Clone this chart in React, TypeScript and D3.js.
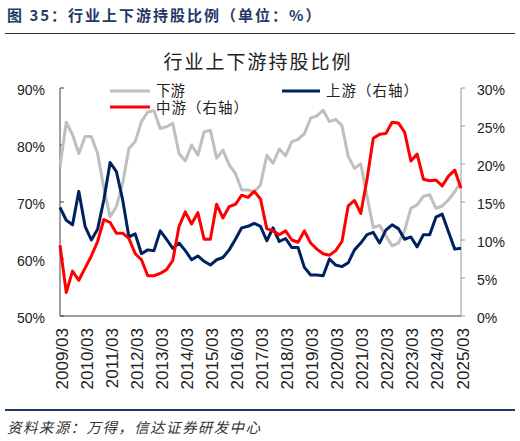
import { scaleLinear, scalePoint, line } from 'd3';

// quarterly categories 2009/03 .. 2025/03
const years = [2009, 2010, 2011, 2012, 2013, 2014, 2015, 2016, 2017, 2018, 2019, 2020, 2021, 2022, 2023, 2024, 2025];
const months = ['03', '06', '09', '12'];
const quarters = years.flatMap((y) => months.map((m) => `${y}/${m}`)).slice(0, 65);

// 下游 (left axis, %)
const downstream = [
  76.2, 84.0, 81.8, 78.5, 81.5, 81.5, 78.5, 72.4, 67.4, 69.2, 73.3, 79.4, 80.6, 84.1, 85.8, 86.0,
  82.9, 83.2, 83.8, 78.5, 77.2, 80.0, 78.2, 82.3, 82.6, 77.7, 79.1, 76.5, 75.0, 72.1, 72.1, 71.8,
  73.0, 78.2, 76.8, 79.3, 78.1, 80.6, 81.0, 82.0, 84.7, 85.1, 86.1, 84.1, 84.5, 83.4, 78.0, 75.9,
  76.7, 71.0, 65.5, 65.9, 64.1, 62.3, 62.8, 65.0, 68.9, 69.5, 71.0, 71.3, 68.9, 69.3, 70.4, 71.8,
  73.6,
];

// 中游 (right axis, %)
const midstream = [
  9.3, 3.1, 5.9, 4.7, 6.3, 7.9, 9.8, 12.7, 12.3, 10.9, 10.9, 10.2, 8.2, 7.4, 5.3, 5.3,
  5.6, 6.1, 7.3, 11.8, 13.7, 12.1, 13.6, 10.1, 10.1, 14.7, 12.9, 14.4, 14.7, 15.9, 15.6, 16.4,
  15.4, 11.5, 11.2, 10.7, 11.2, 10.0, 9.7, 11.2, 9.6, 8.8, 8.2, 8.0, 8.6, 9.8, 14.5, 15.2,
  13.5, 18.0, 23.4, 23.9, 24.0, 25.5, 25.4, 24.2, 20.4, 21.3, 18.0, 17.8, 17.9, 17.1, 18.4, 19.2,
  16.8,
];

// 上游 (right axis, %)
const upstream = [
  14.3, 12.6, 12.0, 16.4, 11.8, 10.0, 11.4, 15.3, 20.2, 19.0, 15.3, 10.4, 10.8, 8.2, 8.7, 8.6,
  11.2, 10.1, 8.9, 9.6, 8.6, 7.4, 7.9, 7.2, 6.7, 7.4, 7.7, 8.7, 10.1, 11.6, 11.8, 12.2,
  11.8, 9.9, 11.6, 9.8, 10.2, 9.0, 9.0, 6.4, 5.4, 5.4, 5.3, 7.5, 6.7, 6.5, 7.0, 8.7,
  9.6, 10.7, 11.0, 9.6, 11.3, 12.0, 11.5, 10.1, 10.4, 9.1, 10.7, 10.7, 13.0, 13.4, 11.1, 8.8,
  8.9,
];

const leftTicks = [50, 60, 70, 80, 90];
const rightTicks = [0, 5, 10, 15, 20, 25, 30];
const xTickLabels = quarters.filter((q) => q.endsWith('/03'));

const W = 520;
const H = 441;
const plot = { left: 60, right: 461, top: 88, bottom: 316 };

const numFont = '"Liberation Sans", Arial, sans-serif';
const cjkFont = '"Noto Sans CJK SC", sans-serif';

export default function App() {
  const x = scalePoint<string>().domain(quarters).range([plot.left, plot.right]);
  const yL = scaleLinear().domain([50, 90]).range([plot.bottom, plot.top]);
  const yR = scaleLinear().domain([0, 30]).range([plot.bottom, plot.top]);

  const lineL = line<number>()
    .x((_, i) => x(quarters[i]) ?? 0)
    .y((d) => yL(d));
  const lineR = line<number>()
    .x((_, i) => x(quarters[i]) ?? 0)
    .y((d) => yR(d));

  return (
    <svg width={W} height={H} style={{ position: 'absolute', left: 0, top: 0, background: '#fff' }}>
      {/* header */}
      <text x={7} y={21} fontFamily={cjkFont} fontSize={15} fontWeight="bold" fill="#1F3A68" letterSpacing={2}>
        图 35：行业上下游持股比例（单位：%）
      </text>
      <line x1={5} x2={515} y1={33.5} y2={33.5} stroke="#333" strokeWidth={1} />

      {/* chart title */}
      <text x={258} y={69} textAnchor="middle" fontFamily={cjkFont} fontSize={19} fill="#222" letterSpacing={2}>
        行业上下游持股比例
      </text>

      {/* axes */}
      <line x1={plot.left} x2={plot.left} y1={plot.top} y2={plot.bottom} stroke="#404040" />
      <line x1={plot.right} x2={plot.right} y1={plot.top} y2={plot.bottom} stroke="#999" />
      <line x1={plot.left} x2={plot.right} y1={plot.bottom} y2={plot.bottom} stroke="#404040" strokeWidth={1.2} />
      {leftTicks.map((t) => (
        <g key={`l${t}`}>
          <line x1={plot.left} x2={plot.left + 4} y1={yL(t)} y2={yL(t)} stroke="#404040" />
          <text x={45} y={yL(t) + 7} textAnchor="end" fontFamily={numFont} fontSize={14} fill="#222">
            {t}%
          </text>
        </g>
      ))}
      {rightTicks.map((t) => (
        <g key={`r${t}`}>
          <line x1={plot.right} x2={plot.right + 4} y1={yR(t)} y2={yR(t)} stroke="#999" />
          <text x={477} y={yR(t) + 7} fontFamily={numFont} fontSize={14} fill="#222">
            {t}%
          </text>
        </g>
      ))}
      {xTickLabels.map((q) => (
        <text
          key={q}
          transform={`translate(${(x(q) ?? 0) + 7.5},328) rotate(-90)`}
          textAnchor="end"
          fontFamily={numFont}
          fontSize={17}
          fill="#222"
        >
          {q}
        </text>
      ))}

      {/* series */}
      <path d={lineL(downstream) ?? ''} fill="none" stroke="#BFBFBF" strokeWidth={3} strokeLinejoin="round" />
      <path d={lineR(upstream) ?? ''} fill="none" stroke="#002060" strokeWidth={3} strokeLinejoin="round" />
      <path d={lineR(midstream) ?? ''} fill="none" stroke="#FF0000" strokeWidth={3} strokeLinejoin="round" />

      {/* legend */}
      <line x1={110} x2={150} y1={91} y2={91} stroke="#BFBFBF" strokeWidth={3} />
      <text x={156} y={96} fontFamily={cjkFont} fontSize={14.5} fill="#222">下游</text>
      <line x1={110} x2={150} y1={107} y2={107} stroke="#FF0000" strokeWidth={3} />
      <text x={156} y={113} fontFamily={cjkFont} fontSize={14.5} fill="#222" letterSpacing={1}>中游（右轴）</text>
      <line x1={282} x2={320} y1={91} y2={91} stroke="#002060" strokeWidth={3} />
      <text x={326} y={96} fontFamily={cjkFont} fontSize={14.5} fill="#222" letterSpacing={1}>上游（右轴）</text>

      {/* footer */}
      <line x1={5} x2={515} y1={410} y2={410} stroke="#1F3A68" strokeWidth={2} />
      <text x={7} y={433} fontFamily={cjkFont} fontSize={14.5} fontStyle="italic" fill="#333" letterSpacing={1.4}>
        资料来源：万得，信达证券研发中心
      </text>
    </svg>
  );
}
